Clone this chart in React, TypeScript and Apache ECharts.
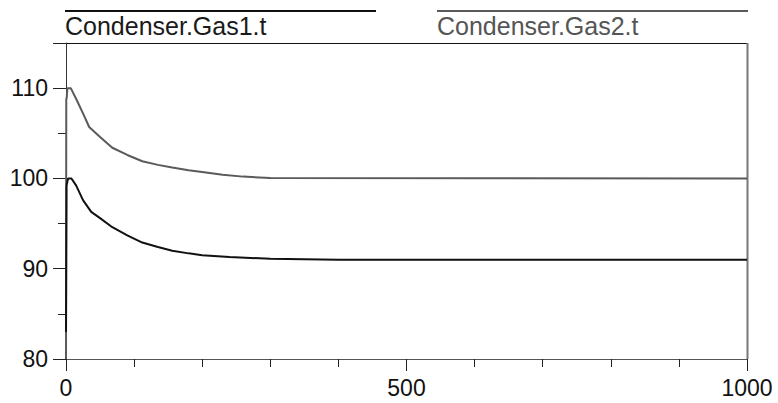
import React, { useEffect, useRef } from "react";
import * as echarts from "echarts";

const seriesNames = ["Condenser.Gas1.t", "Condenser.Gas2.t"];

const gas1Time = [0, 0.8, 3, 8, 15, 25, 37, 50, 68, 90, 112, 135, 156, 180, 200, 240, 300, 400, 1000];
const gas1Temp = [83, 99.2, 100, 100, 99.2, 97.6, 96.3, 95.6, 94.6, 93.7, 92.9, 92.4, 92.0, 91.7, 91.5, 91.3, 91.1, 91.0, 91.0];

const gas2Time = [0, 0.4, 1, 2, 7, 15, 25, 34, 50, 68, 90, 112, 135, 156, 180, 200, 230, 260, 300, 1000];
const gas2Temp = [80, 108.8, 108.9, 110, 110, 108.8, 107.2, 105.7, 104.6, 103.4, 102.6, 101.9, 101.5, 101.2, 100.9, 100.7, 100.4, 100.2, 100.05, 100.0];

const xTicks = [0, 500, 1000];
const yTicks = [80, 90, 100, 110];

const FONT = "Liberation Sans";

export default function App() {
  const ref = useRef<HTMLDivElement>(null);
  useEffect(() => {
    if (!ref.current) return;
    const chart = echarts.init(ref.current, null, { renderer: "svg" });
    const gridLeft = 66;
    const gridRight = 31;
    const gridTop = 43;
    const gridBottom = 44;
    const W = 778;
    const H = 403;
    chart.setOption({
      animation: false,
      backgroundColor: "#ffffff",
      grid: { left: gridLeft, right: gridRight, top: gridTop, bottom: gridBottom, containLabel: false },
      xAxis: {
        type: "value",
        min: 0,
        max: 1000,
        interval: 500,
        axisLine: { show: true, onZero: false, lineStyle: { color: "#555", width: 1 } },
        axisTick: { show: true, inside: false, length: 12, lineStyle: { color: "#222", width: 1 } },
        minorTick: { show: true, splitNumber: 5, length: 8, lineStyle: { color: "#222", width: 1 } },
        splitLine: { show: false },
        axisLabel: {
          margin: 17,
          fontFamily: FONT,
          fontSize: 23,
          color: "#111",
          formatter: (v: number) => (xTicks.includes(v) ? String(v) : ""),
        },
      },
      yAxis: {
        type: "value",
        min: 80,
        max: 115,
        interval: 10,
        axisLine: { show: true, onZero: false, lineStyle: { color: "#333", width: 1 } },
        axisTick: { show: true, inside: false, length: 13, lineStyle: { color: "#222", width: 1 } },
        minorTick: { show: true, splitNumber: 2, length: 8, lineStyle: { color: "#222", width: 1 } },
        splitLine: { show: false },
        axisLabel: {
          margin: 18,
          fontFamily: FONT,
          fontSize: 23,
          color: "#111",
          formatter: (v: number) => (yTicks.includes(v) ? String(v) : ""),
        },
      },
      series: [
        {
          name: seriesNames[0],
          type: "line",
          data: gas1Time.map((t, i) => [t, gas1Temp[i]]),
          showSymbol: false,
          symbol: "none",
          lineStyle: { color: "#111111", width: 2 },
          z: 3,
        },
        {
          name: seriesNames[1],
          type: "line",
          data: gas2Time.map((t, i) => [t, gas2Temp[i]]),
          showSymbol: false,
          symbol: "none",
          lineStyle: { color: "#5a5a5a", width: 2 },
          z: 2,
        },
      ],
      graphic: [
        { type: "line", shape: { x1: 57, y1: gridTop + 0.5, x2: W - gridRight + 0.5, y2: gridTop + 0.5 }, style: { stroke: "#111", lineWidth: 1 } },
        { type: "line", shape: { x1: W - gridRight + 0.5, y1: gridTop, x2: W - gridRight + 0.5, y2: H - gridBottom }, style: { stroke: "#777", lineWidth: 2 } },
        { type: "line", shape: { x1: 65, y1: 11, x2: 376, y2: 11 }, style: { stroke: "#111", lineWidth: 2 } },
        {
          type: "text",
          x: 65,
          y: 26,
          style: { text: seriesNames[0], fontFamily: FONT, fontSize: 25, fill: "#1a1a1a", verticalAlign: "middle" },
        },
        { type: "line", shape: { x1: 437, y1: 11, x2: 748, y2: 11 }, style: { stroke: "#5a5a5a", lineWidth: 2 } },
        {
          type: "text",
          x: 437,
          y: 26,
          style: { text: seriesNames[1], fontFamily: FONT, fontSize: 25, fill: "#555", verticalAlign: "middle" },
        },
      ],
    });
    return () => chart.dispose();
  }, []);
  return <div ref={ref} style={{ width: 778, height: 403, position: "fixed", left: 0, top: 0 }} />;
}
